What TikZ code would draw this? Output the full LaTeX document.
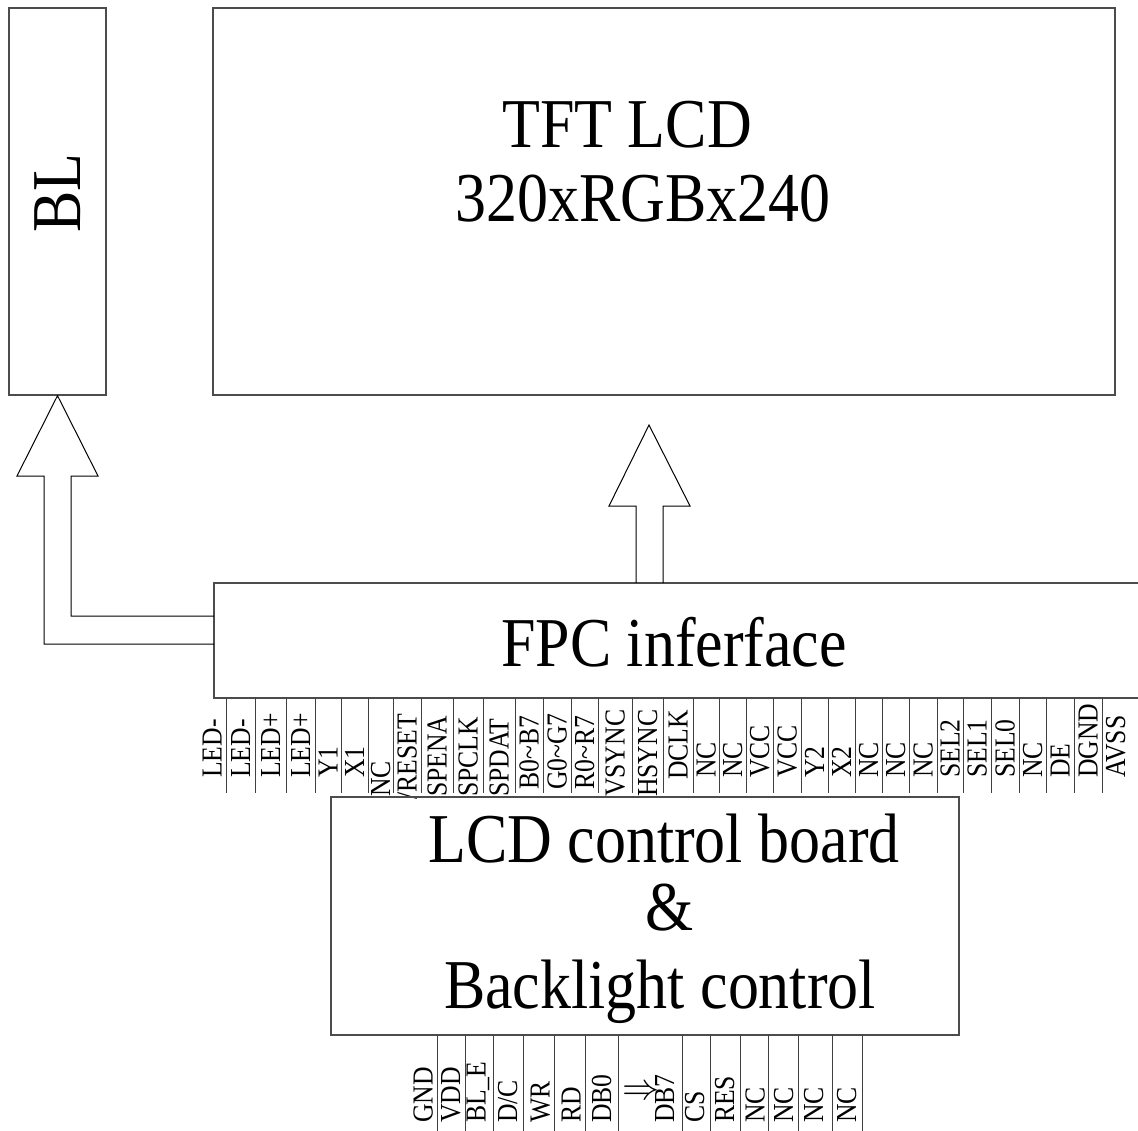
\RequirePackage{fix-cm}
\documentclass[tikz,border=0pt]{standalone}
\usepackage{fontspec}
\setmainfont[FakeStretch=0.885]{Liberation Serif}
\usetikzlibrary{positioning}
\tikzset{
    blockbox/.style={draw=black!70, line width=1.3pt, rectangle, inner sep=0pt},
    blockline/.style={draw=black!70, line width=1.3pt},
    bigtext/.style={font=\fontsize{70}{80}\selectfont, inner sep=0pt},
    pintext/.style={font=\fontsize{29}{31}\selectfont, inner sep=0pt,
                    rotate=90, anchor=base west},
    pinline/.style={draw=black!75, line width=1pt},
    fatarrow/.style={draw=black, line width=1pt, line join=miter},
}

\begin{document}
\begin{tikzpicture}[x=1pt, y=1pt]
\useasboundingbox (0,0) rectangle (1138,-1131);

% --- BL and TFT LCD ---
\node[blockbox, minimum width=97, minimum height=387] (bl) at (57.5,-201.5) {};
\node[bigtext, rotate=90, anchor=base] (bl-t) at (80,-193) {BL};
\node[blockbox, minimum width=902, minimum height=387] (lcd) at (664,-201.5) {};
\node[bigtext, anchor=base] (lcd-t1) at (627,-148) {TFT LCD};
\node[bigtext, anchor=base] (lcd-t2) at (643,-222) {320xRGBx240};

% --- FPC interface (open to the right) ---
\node[bigtext, anchor=base] (fpc) at (674,-666) {FPC inferface};
\coordinate (fpc-nw) at (214,-583);
\coordinate (fpc-sw) at (214,-698);
\draw[blockline] (1138,-583) -- (fpc-nw) -- (fpc-sw) -- (1138,-698);

% --- hollow arrows ---
\draw[fatarrow] (fpc-nw |- 0,-644) -- (44,-644) -- (44,-476) -- (17,-476)
    -- (bl.south) -- (98,-476) -- (71,-476) -- (71,-616) -- (fpc-nw |- 0,-616);
\draw[fatarrow] (636,-583) -- (636,-506) -- (609,-506) -- (649,-425)
    -- (690,-506) -- (663,-506) -- (663,-583);

% --- FPC pins ---
\foreach \px/\pb/\lab [count=\i] in {
    212/778/LED-, 240.5/778/LED-, 270.5/778/LED+, 300.5/778/LED+,
    328/778/Y1, 354.5/778/X1, 380.5/797/NC, 407/800/{/RESET},
    437/797/SPENA, 468/797/SPCLK, 499/797/SPDAT,
    529/790/B0\textasciitilde B7, 557/790/G0\textasciitilde G7,
    584.5/790/R0\textasciitilde R7, 615/797/VSYNC, 647.5/797/HSYNC,
    678/780/DCLK, 706/778/NC, 732.5/778/NC, 759.5/778/VCC, 787/778/VCC,
    814.5/778/Y2, 841.5/778/X2, 868.5/778/NC, 895.5/778/NC, 923/778/NC,
    950/778/SEL2, 977/778/SEL1, 1005/778/SEL0, 1032.5/778/NC,
    1060/778/DE, 1088/778/DGND, 1115.5/778/AVSS}
    \node[pintext] (pt\i) at (\px+9.6,-\pb) {\lab};
\foreach \dx in {226,255,286,315,341,368,393,421,453,483,515,543,571,598,
    632,663,693,719,746,773,801,828,855,882,909,937,963,991,1019,1046,1074,1102}
    \draw[pinline] (\dx,-698) -- (\dx,-793);

% --- control board ---
\node[blockbox, minimum width=628, minimum height=238] (board) at (645,-916) {};
\node[bigtext, anchor=base] (board-t1) at (664,-862) {LCD control board};
\node[bigtext, anchor=base] (board-t2) at (670,-930) {\&};
\node[bigtext, anchor=base] (board-t3) at (660,-1008) {Backlight control};

% --- board pins ---
\foreach \px/\lab [count=\i] in {
    423/GND, 450.5/VDD, 476/BL\_E, 507.5/{D/C}, 540/WR, 571/RD, 601.5/DB0,
    664.5/DB7, 694.5/CS, 724.5/RES, 755/NC, 783.5/NC, 813.5/NC, 846.5/NC}
    \node[pintext] (pb\i) at (\px+9.6,-1123) {\lab};
\node[scale=3.7, inner sep=0pt] (db-arrow) at (641,-1093) {$\Rightarrow$};
\foreach \dx in {437,465,493,523,554,585,618,682,710,740,768,798,832,862}
    \draw[pinline] (\dx,-1035) -- (\dx,-1131);
\end{tikzpicture}
\end{document}
